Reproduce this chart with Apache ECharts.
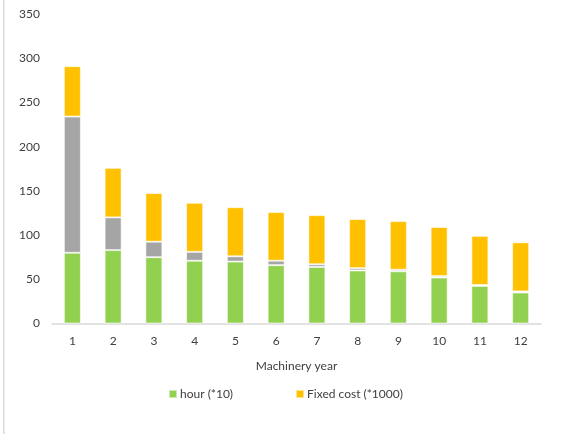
<!DOCTYPE html>
<html>
<head>
<meta charset="utf-8">
<script src="https://cdn.jsdelivr.net/npm/echarts@6/dist/echarts.min.js"></script>
<style>
  html, body { margin: 0; padding: 0; background: #fff; }
  #chart { width: 561px; height: 434px; }
</style>
</head>
<body>
<div id="chart"></div>
<script>
const years = ['1', '2', '3', '4', '5', '6', '7', '8', '9', '10', '11', '12']
const hours = [80, 83, 75, 71, 70, 66, 64, 60, 59, 52, 42.5, 35]
// gray middle segment, its legend entry was removed in the original
const other = [154, 37, 17.5, 10, 6, 5, 3, 2.6, 1.8, 1.6, 1.1, 1.3]
const fixedCost = [57, 56, 55, 55.5, 55.5, 55, 55.5, 55.5, 55, 55.5, 55.5, 55.5]
const yTicks = [0, 350, 50]

const font = 'Lato, "Open Sans", sans-serif'
const textColor = '#404040'
const chart = echarts.init(document.getElementById('chart'))

const barStyle = color => ({
  color,
  borderColor: 'rgba(255,255,255,0.55)',
  borderWidth: 1
})

chart.setOption({
  animation: false,
  textStyle: { fontFamily: font },
  graphic: [
    {
      type: 'rect',
      shape: { x: 3, y: 0, width: 1.5, height: 434 },
      style: { fill: '#d9d9d9' }
    }
  ],
  grid: { left: 52, right: 20, top: 14, bottom: 110.5 },
  legend: {
    data: ['hour (*10)', 'Fixed cost (*1000)'],
    left: 163,
    top: 383,
    itemWidth: 8,
    itemHeight: 8,
    itemGap: 62,
    icon: 'rect',
    textStyle: { fontSize: 12, color: textColor, fontFamily: font, padding: [0, 0, 0, -2] }
  },
  xAxis: {
    type: 'category',
    data: years,
    name: 'Machinery year',
    nameLocation: 'middle',
    nameGap: 37,
    nameTextStyle: { fontSize: 12, color: textColor, fontFamily: font },
    axisLine: { lineStyle: { color: '#d9d9d9', width: 1.5 } },
    axisTick: { show: false },
    axisLabel: { fontSize: 12, color: textColor, margin: 12 }
  },
  yAxis: {
    type: 'value',
    min: yTicks[0],
    max: yTicks[1],
    interval: yTicks[2],
    splitLine: { show: false },
    axisLine: { show: false },
    axisTick: { show: false },
    axisLabel: { fontSize: 12, color: textColor, margin: 12 }
  },
  series: [
    {
      name: 'hour (*10)',
      type: 'bar',
      stack: 'total',
      barWidth: 17,
      data: hours,
      itemStyle: barStyle('#92d050')
    },
    {
      name: 'other',
      type: 'bar',
      stack: 'total',
      barWidth: 17,
      data: other,
      itemStyle: barStyle('#a5a5a5')
    },
    {
      name: 'Fixed cost (*1000)',
      type: 'bar',
      stack: 'total',
      barWidth: 17,
      data: fixedCost,
      itemStyle: barStyle('#ffc000')
    }
  ]
})
</script>
</body>
</html>
